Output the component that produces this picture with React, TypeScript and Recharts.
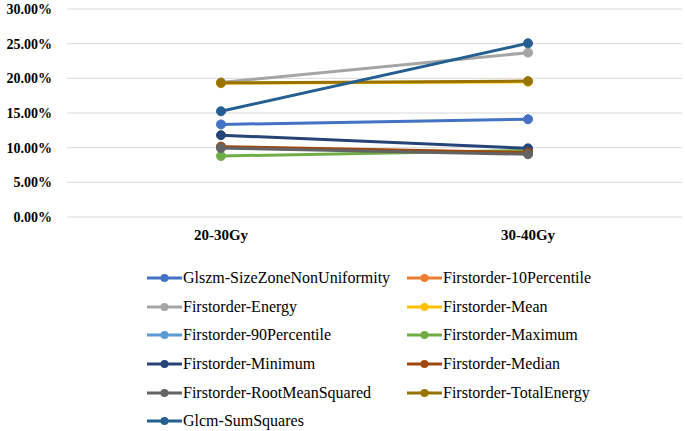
import { LineChart, Line, XAxis, YAxis, CartesianGrid } from 'recharts'

const categories = ['20-30Gy', '30-40Gy']

const seriesNames = [
  'Glszm-SizeZoneNonUniformity',
  'Firstorder-10Percentile',
  'Firstorder-Energy',
  'Firstorder-Mean',
  'Firstorder-90Percentile',
  'Firstorder-Maximum',
  'Firstorder-Minimum',
  'Firstorder-Median',
  'Firstorder-RootMeanSquared',
  'Firstorder-TotalEnergy',
  'Glcm-SumSquares',
]

const seriesColors = [
  '#4472C4', '#ED7D31', '#A5A5A5', '#FFC000', '#5B9BD5', '#70AD47',
  '#264478', '#9E480E', '#636363', '#997300', '#255E91',
]

// percent values per series: [20-30Gy, 30-40Gy]
const glszmSizeZone = [13.35, 14.1]
const fo10Percentile = [10.1, 9.2]
const foEnergy = [19.4, 23.7]
const foMean = [19.3, 19.5]
const fo90Percentile = [10.0, 9.2]
const foMaximum = [8.8, 9.6]
const foMinimum = [11.8, 9.9]
const foMedian = [10.15, 9.3]
const foRootMeanSquared = [9.95, 9.05]
const foTotalEnergy = [19.35, 19.6]
const glcmSumSquares = [15.25, 25.05]

const seriesValues = [
  glszmSizeZone, fo10Percentile, foEnergy, foMean, fo90Percentile, foMaximum,
  foMinimum, foMedian, foRootMeanSquared, foTotalEnergy, glcmSumSquares,
]

const yTicks = [0, 5, 10, 15, 20, 25, 30]

const data = categories.map((cat, i) => {
  const row: any = { name: cat }
  seriesNames.forEach((s, k) => {
    row[s] = seriesValues[k][i]
  })
  return row
})

const font = "'Liberation Serif', Tinos, 'Times New Roman', Times, 'DejaVu Serif', 'Noto Serif', serif"

const ChartLegend = () => (
  <div
    style={{
      position: 'absolute', top: 268, left: 146,
      display: 'grid', gridTemplateColumns: '260px 260px', rowGap: 8.7,
      fontFamily: font, fontSize: 16, color: '#000',
    }}
  >
    {seriesNames.map((s, k) => (
      <div key={s} style={{ display: 'flex', alignItems: 'center', height: 20 }}>
        <svg width={37} height={12}>
          <line x1={1} y1={6} x2={36} y2={6} stroke={seriesColors[k]} strokeWidth={3} />
          <circle cx={18.5} cy={6} r={4} fill={seriesColors[k]} />
        </svg>
        <span>{s}</span>
      </div>
    ))}
  </div>
)

export default function App() {
  return (
    <div style={{ position: 'absolute', left: 0, top: 0, width: 685, height: 431, background: '#fff' }}>
      <LineChart width={685} height={431} data={data} margin={{ top: 9, right: 3, bottom: 174, left: 0 }}>
        <CartesianGrid vertical={false} stroke="#D9D9D9" strokeWidth={1} />
        <XAxis
          dataKey="name"
          axisLine={false}
          tickLine={false}
          tickSize={0}
          tickMargin={12}
          height={40}
          padding={{ left: 154, right: 154 }}
          tick={{ fontFamily: font, fontSize: 15, fontWeight: 'bold', fill: '#000' }}
        />
        <YAxis
          domain={[0, 30]}
          ticks={yTicks}
          width={67}
          axisLine={false}
          tickLine={false}
          tickSize={0}
          tickMargin={15}
          tickFormatter={(v: number) => v.toFixed(2) + '%'}
          tick={{ fontFamily: font, fontSize: 14, fontWeight: 'bold', fill: '#000' }}
        />
        {seriesNames.map((s, k) => (
          <Line
            key={s}
            dataKey={s}
            stroke={seriesColors[k]}
            strokeWidth={3}
            dot={{ r: 4.5, fill: seriesColors[k], stroke: seriesColors[k], strokeWidth: 1 }}
            isAnimationActive={false}
          />
        ))}
      </LineChart>
      <ChartLegend />
    </div>
  )
}
